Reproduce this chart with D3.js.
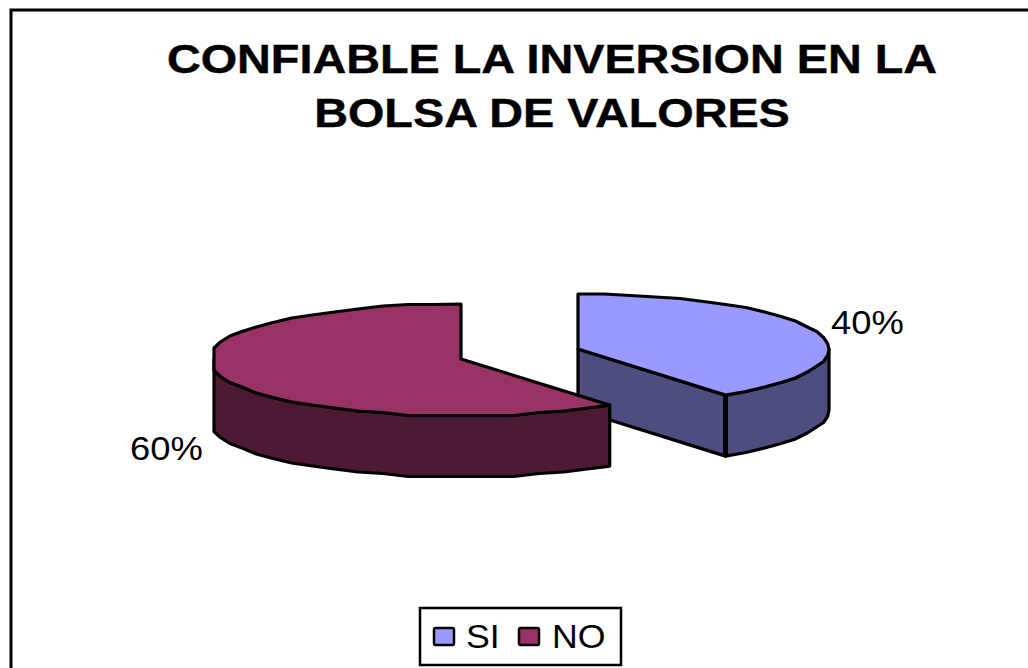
<!DOCTYPE html>
<html><head><meta charset="utf-8">
<script src="https://cdn.jsdelivr.net/npm/d3@7"></script>
<style>html,body{margin:0;padding:0;background:#fff;overflow:hidden}svg{display:block}text{font-family:"Liberation Sans",Arial,sans-serif;fill:#000}</style>
</head><body><svg id="c" width="1028" height="668"></svg>
<script>
const categories = ["SI", "NO"];
const values = [40, 60];
const labels = ["40%", "60%"];
const titleLines = ["CONFIABLE LA INVERSION EN LA", "BOLSA DE VALORES"];
const topColors = ["#9999FF", "#993366"];
const sideColors = ["#4D4D80", "#4D1A33"];

const svg = d3.select("#c");
svg.append("rect").attr("x",11).attr("y",10).attr("width",1040).attr("height",700)
  .attr("fill","#fff").attr("stroke","#000").attr("stroke-width",3);

svg.selectAll("text.title").data(titleLines).join("text").attr("class","title")
  .attr("transform",(d,i)=>`translate(552,${73+i*54}) scale(1.17,1)`).attr("text-anchor","middle")
  .attr("font-size",40).attr("font-weight","bold").attr("stroke","#000").attr("stroke-width",0.4).text(d=>d);

const radiiX = [251, 253], ryBack = 55, ryFront = 57, depth = 61;
const centers = [[578,349],[461,359]];
const arcs = d3.pie().sort(null)(values);
const STEP = Math.PI/30, GRID = 1.5, LEFT_LIMIT = 214;

function exact(i,a,dy=0){
  const c=centers[i], cs=Math.cos(a);
  return [Math.max(LEFT_LIMIT,c[0]+radiiX[i]*Math.sin(a)), c[1]-(cs>0?ryBack:ryFront)*cs+dy];
}
function pt(i,a,dy=0){
  const [x,y]=exact(i,a);
  return [x, Math.round(y/GRID)*GRID+dy];
}
function sample(a0,a1){
  const n=Math.max(1,Math.round((a1-a0)/STEP)), out=[];
  for(let i=0;i<=n;i++) out.push(a0+(a1-a0)*i/n);
  return out;
}
const line = d3.line();

arcs.forEach((arc,i)=>{
  const c=centers[i], g=svg.append("g").attr("stroke","#000").attr("stroke-width",3.2).attr("stroke-linejoin","round");
  const a0=arc.startAngle,a1=arc.endAngle;
  if(i===0){
    g.append("path").attr("fill",sideColors[i]).attr("d",line([c,exact(i,a1),exact(i,a1,depth),[c[0],c[1]+depth]])+"Z");
  }
  const wa0=Math.max(a0,Math.PI/2), wa1=Math.min(a1,3*Math.PI/2);
  const rim=sample(wa0,wa1).slice(1,-1);
  const first=exact(i,wa0), last=exact(i,wa1);
  const up=[first,...rim.map(a=>pt(i,a)),last];
  const down=[[last[0],last[1]+depth],...rim.slice().reverse().map(a=>pt(i,a,depth)),[first[0],first[1]+depth]];
  g.append("path").attr("fill",sideColors[i]).attr("d",line(up.concat(down))+"Z");
  const inner=sample(a0,a1).slice(1,-1).map(a=>pt(i,a));
  const top=[c,exact(i,a0),...inner,exact(i,a1)];
  g.append("path").attr("fill",topColors[i]).attr("d",line(top)+"Z");
});
svg.append("path").attr("stroke","#000").attr("stroke-width",5)
  .attr("d",line([exact(0,arcs[0].endAngle),exact(0,arcs[0].endAngle,depth)]));

const labelPos=[[831,334],[130,460]];
labels.forEach((d,i)=>svg.append("text").attr("transform",`translate(${labelPos[i]}) scale(1.07,1)`).attr("font-size",34).text(d));

const lg=svg.append("g");
lg.append("rect").attr("x",420).attr("y",608).attr("width",201).attr("height",57).attr("fill","#fff").attr("stroke","#000").attr("stroke-width",2.5);
const swX=[434,519], txX=[466,552];
categories.forEach((d,i)=>{
  lg.append("rect").attr("x",swX[i]).attr("y",628).attr("width",20).attr("height",17).attr("rx",1.5)
    .attr("fill",topColors[i]).attr("stroke","#000").attr("stroke-width",2.5);
  lg.append("text").attr("transform",`translate(${txX[i]},648) scale(1.05,1)`).attr("font-size",34).text(d);
});
</script></body></html>
